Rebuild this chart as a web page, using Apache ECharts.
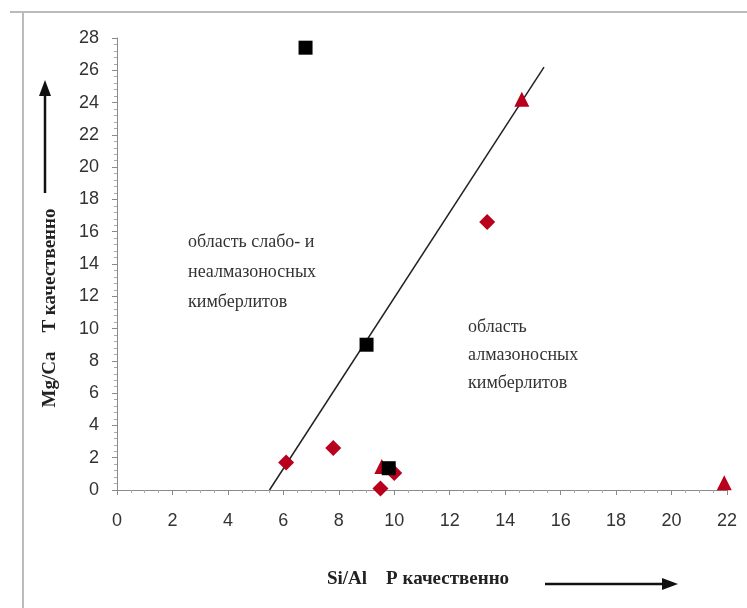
<!DOCTYPE html>
<html>
<head>
<meta charset="utf-8">
<script src="https://cdn.jsdelivr.net/npm/echarts@6/dist/echarts.min.js"></script>
<style>html,body{margin:0;padding:0;background:#fff}#c{width:747px;height:608px}</style>
</head>
<body>
<div id="c"></div>
<script>
// Data (Si/Al, Mg/Ca)
var squares = [[6.8, 27.4], [9.0, 9.0], [9.8, 1.35]];
var diamonds = [[6.1, 1.7], [7.8, 2.6], [9.5, 0.1], [10.0, 1.05], [13.35, 16.6]];
var triangles = [[14.6, 24.2], [21.9, 0.45], [9.55, 1.45]];
var boundaryLine = [[5.5, 0], [15.4, 26.2]];
var xTitle = 'Si/Al    P качественно';
var yTitle = 'Mg/Ca    T качественно';
var region1 = ['область слабо- и', 'неалмазоносных', 'кимберлитов'];
var region2 = ['область', 'алмазоносных', 'кимберлитов'];

var chart = echarts.init(document.getElementById('c'));
var red = '#b8001c';
var serif = 'Liberation Serif, Times New Roman, serif';
var labelStyle = {color: '#333', fontSize: 18, fontFamily: 'Liberation Sans, Arial, sans-serif'};
var axisLine = {onZero: false, lineStyle: {color: '#8a8a8a', width: 1}};
var axisTick = {show: true, length: 5, lineStyle: {color: '#8a8a8a'}};
chart.setOption({
  animation: false,
  backgroundColor: '#fff',
  grid: {left: 117, right: 20, top: 38, bottom: 118},
  xAxis: {type: 'value', min: 0, max: 22, interval: 2,
    minorTick: {show: true, splitNumber: 4, length: 3, lineStyle: {color: '#aaa'}},
    axisLine: axisLine, axisTick: axisTick, splitLine: {show: false},
    axisLabel: Object.assign({margin: 22}, labelStyle)},
  yAxis: {type: 'value', min: 0, max: 28, interval: 2,
    minorTick: {show: true, splitNumber: 5, length: 3, lineStyle: {color: '#aaa'}},
    axisLine: axisLine, axisTick: axisTick, splitLine: {show: false},
    axisLabel: Object.assign({margin: 18}, labelStyle)},
  graphic: [
    {type: 'line', shape: {x1: 10, y1: 12, x2: 747, y2: 12}, style: {stroke: '#bbb', lineWidth: 2}},
    {type: 'line', shape: {x1: 23, y1: 12, x2: 23, y2: 608}, style: {stroke: '#bbb', lineWidth: 2}},
    {type: 'text', left: 327, top: 570, style: {text: xTitle, font: 'bold 19px ' + serif, fill: '#222'}},
    {type: 'line', shape: {x1: 545, y1: 584, x2: 665, y2: 584}, style: {stroke: '#111', lineWidth: 2.5}},
    {type: 'polygon', shape: {points: [[662, 578], [678, 584], [662, 590]]}, style: {fill: '#111'}},
    {type: 'text', x: 50, y: 308, rotation: Math.PI / 2, style: {text: yTitle, font: 'bold 19px ' + serif, fill: '#222', align: 'center', verticalAlign: 'middle'}},
    {type: 'line', shape: {x1: 45, y1: 193, x2: 45, y2: 92}, style: {stroke: '#111', lineWidth: 2.5}},
    {type: 'polygon', shape: {points: [[39, 96], [45, 80], [51, 96]]}, style: {fill: '#111'}},
    {type: 'text', left: 188, top: 227, style: {text: region1.join('\n'), font: '18px ' + serif, lineHeight: 30, fill: '#333'}},
    {type: 'text', left: 468, top: 313, style: {text: region2.join('\n'), font: '18px ' + serif, lineHeight: 28, fill: '#333'}}
  ],
  series: [
    {type: 'line', data: boundaryLine, symbol: 'none', lineStyle: {color: '#222', width: 1.5}, z: 1},
    {type: 'scatter', data: diamonds, symbol: 'diamond', symbolSize: 16, itemStyle: {color: red, opacity: 1}, z: 3},
    {type: 'scatter', data: triangles, symbol: 'triangle', symbolSize: 15, itemStyle: {color: red, opacity: 1}, z: 3},
    {type: 'scatter', data: squares, symbol: 'rect', symbolSize: 14, itemStyle: {color: '#000', opacity: 1}, z: 4}
  ]
});
</script>
</body>
</html>
